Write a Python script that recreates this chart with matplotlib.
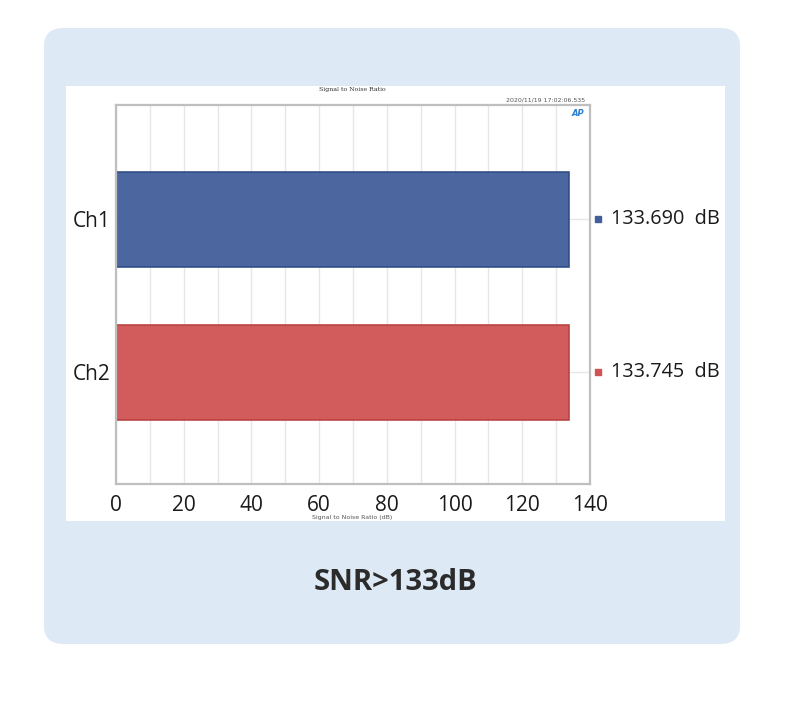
import matplotlib.pyplot as plt
from matplotlib.patches import FancyBboxPatch, Rectangle
from matplotlib.transforms import blended_transform_factory

# Data
channels = ['Ch1', 'Ch2']
snr_values = [133.690, 133.745]
bar_colors = ['#425e9b', '#d05353']
edge_colors = ['#2f4a85', '#b94040']
x_ticks = [0, 20, 40, 60, 80, 100, 120, 140]

W, H = 790, 717
fig = plt.figure(figsize=(W / 100, H / 100), dpi=100)
fig.patch.set_facecolor('white')

# Light blue card behind the chart
card = FancyBboxPatch((44 / W, 1 - 644 / H), (740 - 44) / W, (644 - 28) / H,
                      boxstyle='round,pad=0,rounding_size=0.025',
                      transform=fig.transFigure, facecolor='#dde9f5', edgecolor='none', zorder=-2)
fig.patches.append(card)

# White panel (the screenshot of the analyzer)
panel = Rectangle((66 / W, 1 - 521 / H), (725 - 66) / W, (521 - 86) / H,
                  transform=fig.transFigure, facecolor='white', edgecolor='none', zorder=-1)
fig.patches.append(panel)

ax = fig.add_axes([116 / W, 1 - 484 / H, 474 / W, 379 / H])
ax.set_facecolor('white')

ypos = list(range(len(channels)))
ax.barh(ypos, snr_values, height=0.62, color=bar_colors, edgecolor=edge_colors,
        linewidth=1.2, alpha=0.95, zorder=2)

ax.set_xlim(0, 140)
ax.set_ylim(1.73, -0.745)
ax.set_xticks(x_ticks)
ax.set_xticks(range(0, 141, 10), minor=True)
ax.set_yticks(ypos)
ax.set_yticklabels(channels)
ax.grid(True, which='both', axis='x', color='#e6e6e6', linewidth=1, zorder=1)
ax.grid(True, axis='y', color='#e6e6e6', linewidth=1, zorder=3)
ax.tick_params(axis='both', which='both', length=0, labelsize=15, colors='#1a1a1a')
ax.tick_params(axis='x', pad=8)
ax.tick_params(axis='y', pad=4)
for lab in ax.get_xticklabels() + ax.get_yticklabels():
    lab.set_family('Open Sans')
for s in ax.spines.values():
    s.set_color('#bfbfbf')
    s.set_linewidth(1.6)

# Value readouts to the right of the plot
trans = blended_transform_factory(ax.transAxes, ax.transData)
for y, v, c in zip(ypos, snr_values, bar_colors):
    ax.plot([1.016], [y], marker='s', markersize=5, color=c, transform=trans, clip_on=False)
    ax.text(1.045, y, f'{v:.3f}  dB', transform=trans, va='center', ha='left',
            fontsize=14.3, family='Open Sans', color='#1a1a1a')

# Small analyzer annotations
fig.text(352 / W, 1 - 90 / H, 'Signal to Noise Ratio', fontsize=4.5, family='DejaVu Serif',
         ha='center', va='center', color='#333333')
fig.text(585 / W, 1 - 100 / H, '2020/11/19 17:02:06.535', fontsize=4.5, family='DejaVu Sans',
         ha='right', va='center', color='#555555')
fig.text(578 / W, 1 - 114 / H, 'AP', fontsize=6, fontweight='bold', style='italic',
         family='DejaVu Sans', ha='center', va='center', color='#2a7fd0', zorder=5)
fig.text(352 / W, 1 - 518 / H, 'Signal to Noise Ratio (dB)', fontsize=4.5, family='DejaVu Sans',
         ha='center', va='center', color='#555555')

# Caption
fig.text(395 / W, 1 - 583 / H, 'SNR>133dB', fontsize=21, fontweight='bold',
         family=['Open Sans', 'DejaVu Sans'], ha='center', va='center', color='#2b2b2b')

fig.savefig('out.png', dpi=100)
